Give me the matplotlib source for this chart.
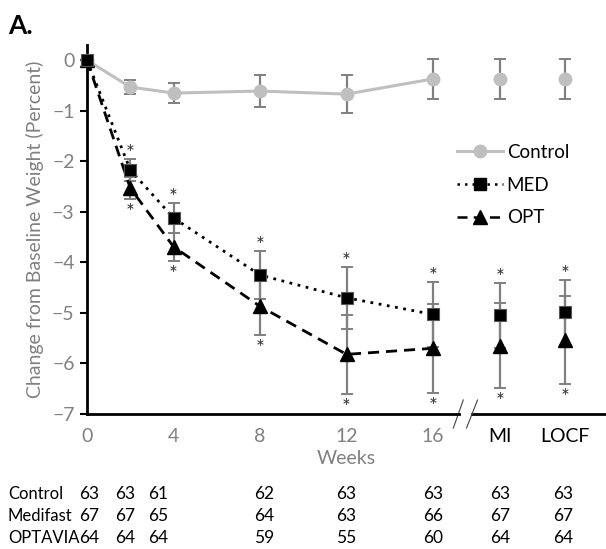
import matplotlib
matplotlib.use('Agg')
import matplotlib.pyplot as plt
import matplotlib.transforms as mtransforms

plt.rcParams['font.family'] = ['Lato', 'DejaVu Sans']

# time points: weeks 0..16, then MI and LOCF placed after an axis break
x_pos = [0, 2, 4, 8, 12, 16, 19.1, 22.1]
tick_pos = [0, 4, 8, 12, 16, 19.1, 22.1]
tick_labels = ['0', '4', '8', '12', '16', 'MI', 'LOCF']

# mean change from baseline weight (%) and error bars
control = [0, -0.53, -0.65, -0.61, -0.67, -0.37, -0.37, -0.37]
control_err = [0, 0.13, 0.19, 0.31, 0.38, 0.39, 0.39, 0.39]
med = [0, -2.17, -3.12, -4.25, -4.70, -5.03, -5.05, -4.99]
med_err = [0, 0.22, 0.30, 0.48, 0.61, 0.65, 0.65, 0.65]
opt = [0, -2.53, -3.69, -4.87, -5.82, -5.70, -5.65, -5.53]
opt_err = [0, 0.22, 0.28, 0.56, 0.78, 0.88, 0.84, 0.87]

# participants per time point
row_names = ['Control', 'Medifast', 'OPTAVIA']
n_control = [63, 63, 61, 62, 63, 63, 63, 63]
n_med = [67, 67, 65, 64, 63, 66, 67, 67]
n_opt = [64, 64, 64, 59, 55, 60, 64, 64]
count_x = [0.1, 1.75, 3.3, 8.2, 12.0, 16.0, 19.1, 22.0]

GRAY = '#808080'
LIGHT = '#bfbfbf'
n_line = 6  # points joined by lines (weeks 0-16)

fig = plt.figure(figsize=(6.06, 5.49), dpi=100)
ax = fig.add_axes([0.1436, 0.2459, 0.8564, 0.672])

# error bars
for vals, errs, start in [(control, control_err, 0), (med, med_err, 1), (opt, opt_err, 1)]:
    ax.errorbar(x_pos[start:], vals[start:], yerr=errs[start:], fmt='none', ecolor=GRAY,
                elinewidth=1.6, capsize=4, capthick=1.4, zorder=2, clip_on=False)

# lines + markers
ax.plot(x_pos[:n_line], control[:n_line], color=LIGHT, lw=2.2, zorder=3)
ax.plot(x_pos, control, ls='none', marker='o', ms=9, color=LIGHT, zorder=3, clip_on=False)
ax.plot(x_pos[:n_line], opt[:n_line], color='black', lw=2, ls=(0, (4, 2.5)), zorder=4)
ax.plot(x_pos, opt, ls='none', marker='^', ms=10, color='black', zorder=4, clip_on=False)
ax.plot(x_pos[:n_line], med[:n_line], color='black', lw=2, ls=(0, (1, 2)), zorder=5)
ax.plot(x_pos, med, ls='none', marker='s', ms=8, color='black', mec='#555555',
        mew=0.8, zorder=5, clip_on=False)

# significance asterisks
for i in range(1, len(x_pos)):
    ax.annotate('*', (x_pos[i], med[i] + med_err[i]), xytext=(0, -4),
                textcoords='offset points', ha='center', va='bottom',
                fontsize=15, color='#333333', annotation_clip=False)
    ax.annotate('*', (x_pos[i], opt[i] - opt_err[i]), xytext=(0, -3),
                textcoords='offset points', ha='center', va='top',
                fontsize=15, color='#333333', annotation_clip=False)

# legend built from proxy handles
h_c, = ax.plot([], [], color=LIGHT, lw=2.2, marker='o', ms=9)
h_m, = ax.plot([], [], color='black', lw=1.8, ls=(0, (1, 2)), marker='s', ms=8)
h_o, = ax.plot([], [], color='black', lw=1.8, ls=(0, (4, 2.5)), marker='^', ms=10)
ax.legend([h_c, h_m, h_o], ['Control', 'MED', 'OPT'], loc='upper left',
          bbox_to_anchor=(0.713, 0.733), frameon=False, fontsize=13.5,
          borderaxespad=0, borderpad=0, handlelength=2.45, handletextpad=0.2,
          labelspacing=0.85)

ax.set_xlim(0, 24.0)
ax.set_ylim(-7, 0.3)
ax.set_yticks(range(-7, 1))
ax.set_xticks(tick_pos)
ax.set_xticklabels(tick_labels)
ax.tick_params(axis='x', length=0, labelsize=14, labelcolor=GRAY, pad=10)
ax.get_xticklabels()[5].set_color('black')
ax.get_xticklabels()[6].set_color('black')
ax.tick_params(axis='y', length=5, width=1.5, labelsize=14, labelcolor=GRAY, pad=4)
ax.set_ylabel('Change from Baseline Weight (Percent)', color=GRAY, fontsize=14, labelpad=6)
ax.set_xlabel('Weeks', color=GRAY, fontsize=14, labelpad=4)

for s in ['top', 'right']:
    ax.spines[s].set_visible(False)
ax.spines['left'].set_linewidth(2)
ax.spines['bottom'].set_linewidth(2)
ax.spines['bottom'].set_bounds(0, 17.2)
trans = mtransforms.blended_transform_factory(ax.transData, ax.transAxes)
ax.plot([17.8, 24.0], [0, 0], color='black', lw=2, transform=trans, clip_on=False)
# break marks
ax.plot([16.94, 17.4], [-0.038, 0.038], color='#444444', lw=0.8, transform=trans, clip_on=False)
ax.plot([17.55, 18.06], [-0.038, 0.038], color='#444444', lw=0.8, transform=trans, clip_on=False)

fig.text(0.013, 0.953, 'A.', fontsize=19, fontweight='bold', va='center')

# sample size table
ttrans = mtransforms.blended_transform_factory(ax.transData, fig.transFigure)
row_y = [1 - 494 / 549, 1 - 516 / 549, 1 - 538 / 549]
for name, counts, y in zip(row_names, [n_control, n_med, n_opt], row_y):
    fig.text(0.013, y, name, fontsize=12, va='center')
    for xc, n in zip(count_x, counts):
        ax.text(xc, y, str(n), transform=ttrans, fontsize=12.5, ha='center', va='center')

fig.savefig('out.png', dpi=100)
